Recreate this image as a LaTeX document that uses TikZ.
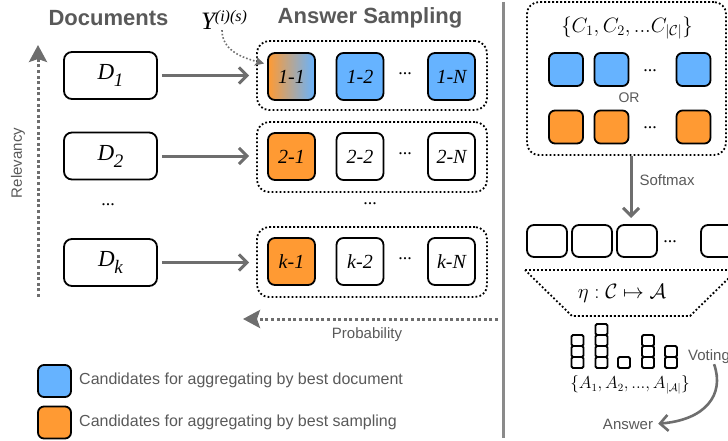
\documentclass[tikz,border=0pt]{standalone}
\usepackage{fontspec}
\newfontfamily\arial{Liberation Sans}
\newfontfamily\tms{Liberation Serif}
\usetikzlibrary{arrows.meta}
\definecolor{cblue}{HTML}{66B3FF}
\definecolor{corange}{HTML}{FF9A33}
\definecolor{txtgray}{HTML}{595959}
\definecolor{arrgray}{HTML}{6E6E6E}
\definecolor{sepgray}{HTML}{8A8A8A}
\newcommand{\fsz}[1]{\fontsize{#1}{#1}\selectfont}
\newcommand{\dsub}[2]{{\tms\itshape\fsz{23}#1\kern-0.5pt\raisebox{-7pt}{\fsz{19}#2}}}
\begin{document}
\begin{tikzpicture}[x=1pt,y=-1pt,
  docbox/.style={draw, line width=1.8pt, rounded corners=8pt, minimum width=93pt, minimum height=47pt, inner sep=0pt},
  cell/.style={draw, line width=1.8pt, rounded corners=7pt, minimum width=47pt, minimum height=47pt, inner sep=0pt, font=\tms\itshape\fsz{20}},
  sq/.style={draw, line width=1.8pt, rounded corners=6pt, minimum width=34pt, minimum height=33pt, inner sep=0pt},
  rbox/.style={draw, line width=1.8pt, rounded corners=7pt, minimum width=40pt, minimum height=32pt, inner sep=0pt},
  bar/.style={draw, line width=1.8pt, rounded corners=1.5pt, minimum width=12pt, minimum height=11pt, inner sep=0pt},
  container/.style={draw, line width=1.8pt, dash pattern=on 1.8pt off 2.2pt, rounded corners=12pt, inner sep=0pt},
  garrow/.style={draw=arrgray, line width=3pt, -{Straight Barb[length=8pt,width=16pt]}},
  dotarrow/.style={draw=arrgray, line width=3pt, dash pattern=on 3pt off 2.6pt, -{Stealth[length=17pt,width=18pt,inset=3pt]}},
  ydots/.style={draw=arrgray, line width=1.6pt, dash pattern=on 1.6pt off 2pt, -{Stealth[length=9pt,width=9pt,inset=2pt]}},
  heading/.style={font=\arial\bfseries\fsz{22}, text=txtgray},
  gtext/.style={font=\arial\fsz{15}, text=txtgray},
  ldots/.style={font=\tms\fsz{18}},
]
\useasboundingbox (0,0) rectangle (728,441);
\clip (0,0) rectangle (728,441);

% headings
\node[heading] (hdoc) at (108.5,18) {Documents};
\node[heading] (hans) at (370,18) {Answer Sampling};
\node[font=\tms\itshape\fsz{25}, inner sep=0pt, anchor=base] (Y) at (224,30) {Y\raisebox{8pt}{\fsz{16}(i)(s)}};

% documents
\node[docbox] (D1) at (110.5,75.5) {\dsub{D}{1}};
\node[docbox] (D2) at (110.5,156) {\dsub{D}{2}};
\node[ldots] (Ddots) at (108,205) {...};
\node[docbox] (Dk) at (110.5,262.5) {\dsub{D}{k}};

% row containers
\node[container, minimum width=230pt, minimum height=69pt] (R1) at (372,75.5) {};
\node[container, minimum width=230pt, minimum height=70pt] (R2) at (372,157) {};
\node[container, minimum width=230pt, minimum height=70pt] (Rk) at (372,262) {};

% cells
\node[cell, left color=corange, right color=cblue] (c11) at (291.5,76.5) {1-1};
\node[cell, fill=cblue] (c12) at (360,76.5) {1-2};
\node[ldots] (r1dots) at (405,74) {...};
\node[cell, fill=cblue] (c1N) at (451.5,76.5) {1-N};

\node[cell, fill=corange] (c21) at (291.5,156.5) {2-1};
\node[cell, fill=white] (c22) at (360,156.5) {2-2};
\node[ldots] (r2dots) at (405,154) {...};
\node[cell, fill=white] (c2N) at (451.5,156.5) {2-N};

\node[ldots] (rowdots) at (370,204) {...};

\node[cell, fill=corange] (ck1) at (291.5,261.5) {k-1};
\node[cell, fill=white] (ck2) at (360,261.5) {k-2};
\node[ldots] (rkdots) at (405,259) {...};
\node[cell, fill=white] (ckN) at (451.5,261.5) {k-N};

% arrows docs -> rows
\draw[garrow, shorten <=4pt, shorten >=7pt] (D1.east) -- (D1.east -| R1.west);
\draw[garrow, shorten <=4pt, shorten >=7pt] (D2.east) -- (D2.east -| R2.west);
\draw[garrow, shorten <=4pt, shorten >=7pt] (Dk.east) -- (Dk.east -| Rk.west);

% Y arrow
\draw[ydots] ([xshift=-2pt]Y.south) to[out=-90,in=165] ([shift={(-3pt,13pt)}]c11.west);

% relevancy
\coordinate (relB) at (38,297);
\coordinate (relT) at (38,45);
\draw[dotarrow] (relB) -- (relT);
\node[gtext, rotate=90] (rel) at (18,163) {Relevancy};

% probability
\coordinate (probR) at (498,319);
\coordinate (probL) at (243,319);
\draw[dotarrow] (probR) -- (probL);
\node[gtext] (prob) at (367,335) {Probability};

% legend
\node[sq, fill=cblue, minimum width=33pt, minimum height=32pt] (lg1) at (54.5,381) {};
\node[font=\arial\fsz{16}, text=txtgray, anchor=west, inner sep=0pt] (lt1) at (79,380) {Candidates for aggregating by best document};
\node[sq, fill=corange, minimum width=33pt, minimum height=32pt] (lg2) at (54.5,422.5) {};
\node[font=\arial\fsz{16}, text=txtgray, anchor=west, inner sep=0pt] (lt2) at (79,422) {Candidates for aggregating by best sampling};

% separator
\draw[sepgray, line width=3pt] (503,2) -- (503,438);

% right container
\node[container, minimum width=199pt, minimum height=153pt] (RC) at (626.5,78.5) {};
\node[font=\fsz{22}] (cset) at (627,28) {$\{C_1,C_2,...C_{|\mathcal{C}|}\}$};
\node[sq, fill=cblue] (b1) at (566,69.5) {};
\node[sq, fill=cblue] (b2) at (611.5,69.5) {};
\node[ldots] (bdots) at (650,71) {...};
\node[sq, fill=cblue] (b3) at (693.5,69.5) {};
\node[gtext, font=\arial\fsz{14}] (or) at (629,98) {OR};
\node[sq, fill=corange] (o1) at (566,127) {};
\node[sq, fill=corange] (o2) at (611.5,127) {};
\node[ldots] (odots) at (650,128) {...};
\node[sq, fill=corange] (o3) at (693.5,127) {};

% softmax
\coordinate (smEnd) at (631,218);
\draw[garrow] (RC.south -| smEnd) -- (smEnd);
\node[gtext, anchor=west] (soft) at (636,180) {Softmax};

% candidate row
\node[rbox] (p1) at (547,241) {};
\node[rbox] (p2) at (592,241) {};
\node[rbox] (p3) at (637,241) {};
\node[ldots] (pdots) at (670,242) {...};
\node[rbox] (p4) at (721,241) {};

% trapezoid
\draw[line width=1.8pt, dash pattern=on 1.8pt off 2.2pt] (525,270) -- (737,270) -- (690,316) -- (572,316) -- cycle;
\node[font=\fsz{22}] (eta) at (622,293) {$\eta:\mathcal{C}\mapsto\mathcal{A}$};

% bars
\foreach \x/\n in {577.5/3, 601.5/4, 624/1, 648/3, 671/2}{
  \foreach \i in {1,...,\n}{
    \node[bar] (bar-\x-\i) at (\x, 362.5-11*\i+11) {};
  }
}
\node[font=\fsz{16}] (aset) at (630,385) {$\{A_1,A_2,...,A_{|\mathcal{A}|}\}$};

% voting
\node[gtext, anchor=west, inner sep=0pt] (vote) at (688,357) {Voting};
\node[gtext, inner sep=1pt] (ans) at (628,424) {Answer};
\draw[garrow, line width=2.6pt, shorten >=4pt] ([xshift=5pt]vote.south) .. controls (725,395) and (705,420) .. (ans.east);
\end{tikzpicture}
\end{document}
